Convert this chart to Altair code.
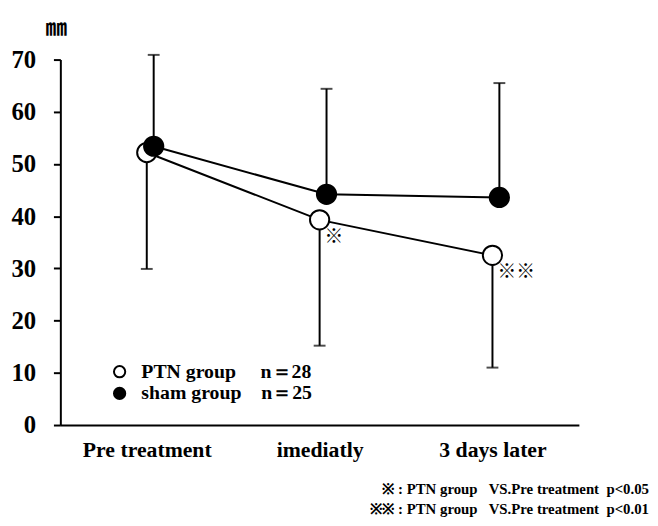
import altair as alt
import pandas as pd

categories = ["Pre treatment", "imediatly", "3 days later"]
series_names = ["PTN group", "sham group"]
n_values = [28, 25]
ptn_mean = [52.2, 39.3, 32.5]
ptn_lower = [29.9, 15.2, 11.0]
sham_mean = [53.4, 44.2, 43.6]
sham_upper = [70.9, 64.4, 65.5]
ptn_marks = ["", "※", "※※"]
y_ticks = [0, 10, 20, 30, 40, 50, 60, 70]
footnotes = [
    "※ : PTN group\u00a0\u00a0\u00a0VS.Pre treatment\u00a0\u00a0p<0.05",
    "※※ : PTN group\u00a0\u00a0\u00a0VS.Pre treatment\u00a0\u00a0p<0.01",
]
unit_label = "㎜"

pads = ["\u00a0" * 5, "\u00a0" * 4]
legend_labels = [f"{s}{p}n＝{n}" for s, p, n in zip(series_names, pads, n_values)]

ptn = pd.DataFrame({"category": categories, "mean": ptn_mean, "bar": ptn_lower,
                    "series": legend_labels[0], "mark": ptn_marks})
sham = pd.DataFrame({"category": categories, "mean": sham_mean, "bar": sham_upper,
                     "series": legend_labels[1], "mark": ["", "", ""]})

SERIF = "Liberation Serif"
x_enc = alt.X("category:N", sort=categories,
              scale=alt.Scale(type="point", domain=categories, padding=0.5),
              axis=alt.Axis(title=None, labelFont=SERIF, labelFontWeight="bold",
                            labelFontSize=22, labelColor="black", ticks=False,
                            labelPadding=15, domainColor="black", domainWidth=2,
                            labelAngle=0))
y_scale = alt.Scale(domain=[0, 70], nice=False, zero=True)
y_axis = alt.Axis(title=None, values=y_ticks, labelFont=SERIF, labelFontWeight="bold",
                  labelFontSize=25, labelColor="black", tickColor="black", tickSize=7,
                  tickWidth=2, domainColor="black", domainWidth=2, grid=False,
                  labelPadding=18)

fill_scale = alt.Scale(domain=legend_labels, range=["white", "black"])
legend = alt.Legend(title=None, orient="none", legendX=50, legendY=306, padding=0,
                    symbolType="circle", symbolSize=130, symbolStrokeColor="black",
                    symbolStrokeWidth=2, labelFont=SERIF, labelFontWeight="bold",
                    labelFontSize=20, labelColor="black", labelOffset=12,
                    rowPadding=2, labelLimit=400)


def layers(df, off):
    base = alt.Chart(df)
    rule = base.mark_rule(color="black", strokeWidth=2, xOffset=off).encode(
        x=x_enc, y=alt.Y("mean:Q", scale=y_scale, axis=y_axis), y2="bar:Q")
    cap = base.mark_tick(color="black", thickness=2, size=12, xOffset=off).encode(
        x=x_enc, y=alt.Y("bar:Q", scale=y_scale))
    line = base.mark_line(color="black", strokeWidth=2, xOffset=off).encode(
        x=x_enc, y=alt.Y("mean:Q", scale=y_scale))
    pt = base.mark_point(filled=True, stroke="black", strokeWidth=2, size=380,
                         opacity=1, shape="circle", xOffset=off).encode(
        x=x_enc, y=alt.Y("mean:Q", scale=y_scale),
        fill=alt.Fill("series:N", scale=fill_scale, legend=legend))
    return [rule, cap, line, pt]


ann = alt.Chart(ptn).mark_text(align="left", baseline="middle", dx=5, dy=17,
                                font="Noto Sans CJK JP", fontSize=19,
                                color="black").encode(
    x=x_enc, y=alt.Y("mean:Q", scale=y_scale), text="mark:N")

foot_df = pd.DataFrame({"t": footnotes, "row": [0, 1]})
foot1 = alt.Chart(foot_df).transform_filter("datum.row == 0").mark_text(
    align="right", baseline="middle", font=SERIF, fontWeight="bold", fontSize=15,
    color="black").encode(x=alt.value(596), y=alt.value(435), text="t:N")
foot2 = alt.Chart(foot_df).transform_filter("datum.row == 1").mark_text(
    align="right", baseline="middle", font=SERIF, fontWeight="bold", fontSize=15,
    color="black").encode(x=alt.value(596), y=alt.value(455), text="t:N")

unit_df = pd.DataFrame({"t": [unit_label]})
unit = alt.Chart(unit_df).mark_text(align="center", baseline="middle",
                                    font="Noto Sans CJK JP", fontWeight="bold",
                                    fontSize=22, color="black").encode(
    x=alt.value(-4), y=alt.value(-32), text="t:N")

chart = alt.layer(*layers(ptn, 0), *layers(sham, 7), ann, foot1, foot2, unit).properties(
    width=525, height=370,
    padding={"left": 53, "top": 49, "right": 72, "bottom": 99},
    autosize=alt.AutoSizeParams(type="none"),
    background="white",
).configure_view(stroke="transparent", strokeWidth=0)

chart.save("out.html", embed_options={"renderer": "svg", "actions": False})
